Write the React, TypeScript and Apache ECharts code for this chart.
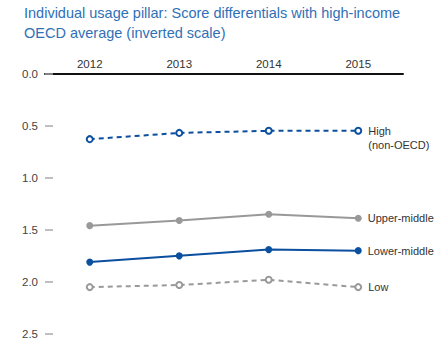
import React, { useEffect, useRef } from "react";
import * as echarts from "echarts";

const years = ["2012", "2013", "2014", "2015"];
const highNonOECD = [0.63, 0.57, 0.55, 0.55];
const upperMiddle = [1.46, 1.41, 1.35, 1.39];
const lowerMiddle = [1.81, 1.75, 1.69, 1.7];
const low = [2.05, 2.03, 1.98, 2.05];
const seriesNames = ["High\n(non-OECD)", "Upper-middle", "Lower-middle", "Low"];
const titleLines = [
  "Individual usage pillar: Score differentials with high-income",
  "OECD average (inverted scale)",
];

const BLUE = "#0b4f9f";
const GRAY = "#999999";
const FONT = "'Liberation Sans Narrow', 'Liberation Sans', Arial, sans-serif";

function lastLabel(values: number[], name: string) {
  return values.map((v, i) =>
    i === values.length - 1
      ? {
          value: v,
          label: {
            show: true,
            position: "right",
            distance: 6,
            formatter: name,
            color: "#333",
            fontSize: 11,
            lineHeight: 14,
            fontFamily: FONT,
            offset: name.includes("\n") ? [0, 7] : [0, 0],
          },
        }
      : v
  );
}

export default function App() {
  const ref = useRef<HTMLDivElement>(null);
  useEffect(() => {
    document.body.style.margin = "0";
    if (!ref.current) return;
    const chart = echarts.init(ref.current, undefined, { renderer: "svg" });
    const mk = (
      name: string,
      data: number[],
      color: string,
      dashed: boolean
    ) => ({
      name,
      type: "line",
      data: lastLabel(data, name),
      symbol: dashed ? "emptyCircle" : "circle",
      symbolSize: dashed ? 6 : 7,
      lineStyle: { color, width: 2, type: dashed ? [5, 4] : "solid" },
      itemStyle: { color, borderColor: color, borderWidth: dashed ? 1.5 : 0 },
      emphasis: { disabled: true },
    });
    chart.setOption({
      animation: false,
      title: {
        text: titleLines.join("\n"),
        left: 24,
        top: 3,
        padding: 0,
        textStyle: {
          color: "#3070b8",
          fontSize: 14.5,
          fontWeight: "normal",
          lineHeight: 20,
          fontFamily: "'Liberation Sans', Arial, sans-serif",
        },
      },
      grid: { left: 45, right: 36, top: 73.5, bottom: 16 },
      xAxis: {
        type: "category",
        position: "top",
        data: years,
        boundaryGap: true,
        axisLine: { lineStyle: { color: "#111", width: 2 } },
        axisTick: {
          alignWithLabel: true,
          inside: true,
          length: 7,
          lineStyle: { color: "#111", width: 2 },
        },
        axisLabel: { color: "#333", fontSize: 11.5, margin: 4, fontFamily: FONT },
      },
      yAxis: {
        type: "value",
        inverse: true,
        min: 0,
        max: 2.5,
        interval: 0.5,
        axisLine: { show: false },
        axisTick: {
          show: true,
          inside: true,
          length: 8,
          lineStyle: { color: "#aaa", width: 1.5 },
        },
        splitLine: { show: false },
        axisLabel: {
          color: "#444",
          fontSize: 11.5,
          margin: 7,
          fontFamily: FONT,
          formatter: (v: number) => v.toFixed(1),
        },
      },
      series: [
        mk(seriesNames[0], highNonOECD, BLUE, true),
        mk(seriesNames[1], upperMiddle, GRAY, false),
        mk(seriesNames[2], lowerMiddle, BLUE, false),
        mk(seriesNames[3], low, GRAY, true),
      ],
    });
    return () => chart.dispose();
  }, []);
  return <div ref={ref} style={{ width: 439, height: 350 }} />;
}
